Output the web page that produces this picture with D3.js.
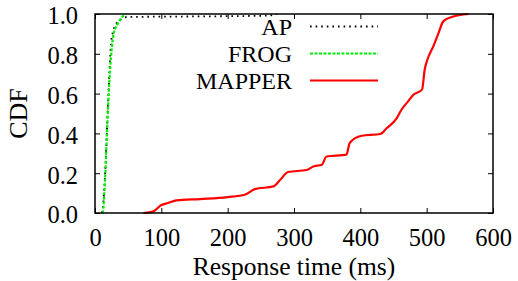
<!DOCTYPE html>
<html>
<head>
<meta charset="utf-8">
<script src="https://cdn.jsdelivr.net/npm/d3@7"></script>
<style>
body { margin: 0; background: #fff; }
text { font-family: "Liberation Serif", "DejaVu Serif", serif; fill: #000; }
</style>
</head>
<body>
<svg id="chart"></svg>
<script>
// CDF points: [response time ms, cdf]
let apData = [[10,0],[12,0.03],[14,0.12],[16,0.25],[18,0.42],[20,0.58],[22,0.73],[24,0.85],[27,0.91],[30,0.94],[34,0.96],[40,0.975],[48,0.985],[120,0.987],[200,0.989],[262,0.992],[274,1.0]]
let frogData = [[11,0],[12.5,0.02],[14,0.1],[16,0.23],[18,0.4],[20,0.55],[22,0.68],[24,0.78],[26,0.85],[28,0.9],[31,0.93],[35,0.955],[40,0.98],[45,1.0]]
let mapperData = [[73,0],[88,0.008],[100,0.04],[110,0.05],[123,0.063],[158,0.07],[200,0.08],[226,0.092],[241,0.12],[269,0.134],[280,0.17],[291,0.206],[319,0.216],[329,0.234],[342,0.243],[349,0.284],[379,0.293],[384,0.352],[402,0.388],[430,0.397],[440,0.427],[455,0.477],[462,0.519],[472,0.561],[480,0.594],[493,0.62],[497,0.72],[502,0.779],[510,0.837],[518,0.905],[525,0.963],[538,0.985],[563,1.0]]

let seriesNames = ['AP', 'FROG', 'MAPPER']
let xTicks = [0, 100, 200, 300, 400, 500, 600]
let yTicks = [0, 0.2, 0.4, 0.6, 0.8, 1.0]

let width = 518
let height = 281
let padL = 95, padR = 493, padT = 14, padB = 213

let svg = d3.select('#chart').attr('width', width).attr('height', height)

let xScale = d3.scaleLinear().domain([0, 600]).range([padL, padR])
let yScale = d3.scaleLinear().domain([0, 1]).range([padB, padT])

let line = d3.line()
    .x(d => xScale(d[0]))
    .y(d => yScale(d[1]))
    .curve(d3.curveMonotoneX)

let styles = [
    {data: apData, color: '#000', dash: '1.6,4', w: 1.8},
    {data: frogData, color: '#00ee00', dash: '3,1.5', w: 2.2},
    {data: mapperData, color: '#ff0000', dash: null, w: 2.2}
]

// curves
styles.forEach(s => {
    svg.append('path')
        .datum(s.data)
        .attr('d', line)
        .attr('fill', 'none')
        .attr('stroke', s.color)
        .attr('stroke-width', s.w)
        .attr('stroke-dasharray', s.dash)
})

// axes with inside ticks, mirrored
let xAxis = d3.axisBottom(xScale).tickValues(xTicks).tickSizeInner(-5).tickSizeOuter(0).tickPadding(16)
let yAxis = d3.axisLeft(yScale).tickValues(yTicks).tickSizeInner(-5).tickSizeOuter(0).tickPadding(17).tickFormat(d3.format('.1f'))

let gx = svg.append('g').attr('transform', 'translate(0,' + padB + ')').call(xAxis)
let gy = svg.append('g').attr('transform', 'translate(' + padL + ',0)').call(yAxis)

svg.append('g').attr('transform', 'translate(0,' + padT + ')')
    .call(d3.axisTop(xScale).tickValues(xTicks).tickSizeInner(-5).tickSizeOuter(0).tickFormat(''))
svg.append('g').attr('transform', 'translate(' + padR + ',0)')
    .call(d3.axisRight(yScale).tickValues(yTicks).tickSizeInner(-5).tickSizeOuter(0).tickFormat(''))

svg.selectAll('.domain').remove()
svg.selectAll('.tick line').attr('stroke', '#000').attr('stroke-width', 1)
svg.selectAll('.tick text').style('font-size', '24.5px').style('font-family', '"Liberation Serif", serif')
gx.selectAll('.tick text').attr('dy', '0.71em')
gy.selectAll('.tick text').attr('dy', '0.4em')

// frame
svg.append('rect')
    .attr('x', padL).attr('y', padT)
    .attr('width', padR - padL).attr('height', padB - padT)
    .attr('fill', 'none').attr('stroke', '#000').attr('stroke-width', 1.5)

// axis titles
svg.append('text')
    .attr('x', (padL + padR) / 2).attr('y', 275)
    .attr('text-anchor', 'middle')
    .style('font-size', '25.5px')
    .text('Response time (ms)')

svg.append('text')
    .attr('transform', 'translate(27,' + ((padT + padB) / 2) + ') rotate(-90)')
    .attr('text-anchor', 'middle')
    .style('font-size', '26px')
    .text('CDF')

// legend
let legendY = [26.5, 53.5, 80.5]
seriesNames.forEach((name, i) => {
    svg.append('text')
        .attr('x', 292).attr('y', legendY[i])
        .attr('dy', '0.34em')
        .attr('text-anchor', 'end')
        .style('font-size', '24px')
        .text(name)
    svg.append('line')
        .attr('x1', 310).attr('x2', 378)
        .attr('y1', legendY[i]).attr('y2', legendY[i])
        .attr('stroke', styles[i].color)
        .attr('stroke-width', styles[i].w)
        .attr('stroke-dasharray', styles[i].dash)
})
</script>
</body>
</html>
